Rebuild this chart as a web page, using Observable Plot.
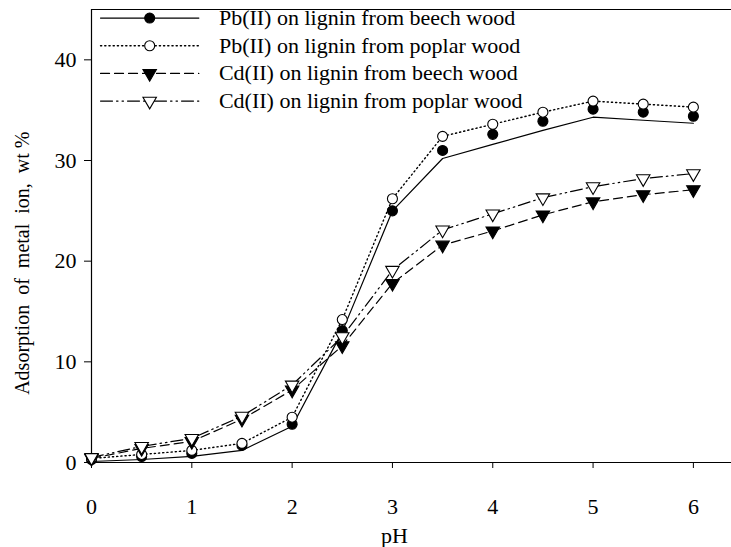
<!DOCTYPE html>
<html>
<head>
<meta charset="utf-8">
<script src="https://cdn.jsdelivr.net/npm/d3@7"></script>
<script src="https://cdn.jsdelivr.net/npm/@observablehq/plot@0.6"></script>
<style>
  html, body { margin: 0; padding: 0; background: white; }
  svg { display: block; }
</style>
</head>
<body>
<div id="chart"></div>
<script>
// ---- data ----
const pH = [0, 0.5, 1, 1.5, 2, 2.5, 3, 3.5, 4, 4.5, 5, 5.5, 6];
const pbBeechPts   = [0.3, 0.6, 0.9, 1.7, 3.8, 13.1, 25.0, 31.0, 32.6, 33.9, 35.1, 34.8, 34.4];
const pbBeechCurve = [0.1, 0.3, 0.6, 1.2, 3.6, 13.0, 25.0, 30.2, 31.6, 33.0, 34.3, 34.0, 33.7];
const pbPoplar     = [0.4, 0.8, 1.2, 1.9, 4.5, 14.2, 26.2, 32.4, 33.6, 34.8, 35.9, 35.6, 35.3];
const cdBeech      = [0.4, 1.4, 2.1, 4.3, 7.2, 11.6, 17.8, 21.6, 23.0, 24.6, 25.9, 26.6, 27.1];
const cdPoplar     = [0.5, 1.6, 2.4, 4.6, 7.7, 12.5, 19.1, 23.1, 24.7, 26.3, 27.4, 28.2, 28.7];
const seriesNames = [
  "Pb(II) on lignin from beech wood",
  "Pb(II) on lignin from poplar wood",
  "Cd(II) on lignin from beech wood",
  "Cd(II) on lignin from poplar wood"
];
const xTicks = [0, 1, 2, 3, 4, 5, 6];
const yTicks = [0, 10, 20, 30, 40];
const xLabel = "pH";
const yLabel = "Adsorption  of  metal  ion,  wt %";

// ---- styles ----
const styles = [
  {dash: null,               width: 1.2, symbol: "circle",   fill: "black", rotate: 0},
  {dash: "1.2,3",            width: 1.4, symbol: "circle",   fill: "white", rotate: 0},
  {dash: "9,5",              width: 1.2, symbol: "triangle", fill: "black", rotate: 180},
  {dash: "12,4,1.5,4,1.5,4", width: 1.2, symbol: "triangle", fill: "white", rotate: 180}
];

const toRows = (ys) => pH.map((x, i) => ({x, y: ys[i]}));
const curves = [toRows(pbBeechCurve), toRows(pbPoplar), toRows(cdBeech), toRows(cdPoplar)];
const points = [toRows(pbBeechPts), toRows(pbPoplar), toRows(cdBeech), toRows(cdPoplar)];

const yMax = 45;
const xMax = 6.38;

// legend rows (positions in data units)
const legendRowsY = [44.15, 41.4, 38.65, 35.9];
const legendLineX = [0.09, 1.07];
const legendMarkX = 0.58;
const legendTextX = 1.27;

const FS = 22;

const marks = [
  Plot.ruleY([0], {stroke: "black", strokeWidth: 1.2}),
  Plot.ruleY([yMax], {stroke: "black", strokeWidth: 1.2}),
  Plot.ruleX([0], {stroke: "black", strokeWidth: 1.2}),
  Plot.axisX({ticks: xTicks, tickSize: 6, tickPadding: 30, label: null, fontSize: FS, tickFormat: d => String(d)}),
  Plot.axisY({ticks: yTicks, tickSize: 7, tickPadding: 8, label: null, fontSize: FS, tickFormat: d => String(d)})
];

styles.forEach((s, k) => {
  marks.push(Plot.line(curves[k], {x: "x", y: "y", stroke: "black", strokeWidth: s.width, strokeDasharray: s.dash}));
});
styles.forEach((s, k) => {
  marks.push(Plot.dot(points[k], {x: "x", y: "y", symbol: s.symbol, r: 5, fill: s.fill, stroke: "black", strokeWidth: 1.1, rotate: s.rotate}));
});

// legend
styles.forEach((s, k) => {
  const yv = legendRowsY[k];
  marks.push(Plot.line(legendLineX.map(x => ({x, y: yv})), {x: "x", y: "y", stroke: "black", strokeWidth: s.width, strokeDasharray: s.dash}));
  marks.push(Plot.dot([{x: legendMarkX, y: yv}], {x: "x", y: "y", symbol: s.symbol, r: 5, fill: s.fill, stroke: "black", strokeWidth: 1.1, rotate: s.rotate}));
  marks.push(Plot.text([{x: legendTextX, y: yv, t: seriesNames[k]}], {x: "x", y: "y", text: "t", textAnchor: "start", fontSize: 22, fill: "black"}));
});

// axis titles
marks.push(Plot.text([{x: 3.02, t: xLabel}], {x: "x", text: "t", frameAnchor: "bottom", dy: 80, fontSize: FS, fill: "black"}));
marks.push(Plot.text([{y: 19.8, t: yLabel}], {y: "y", text: "t", frameAnchor: "left", textAnchor: "middle", dx: -69, rotate: -90, fontSize: 20, fill: "black"}));

const chart = Plot.plot({
  width: 731,
  height: 547,
  marginLeft: 91,
  marginRight: 0,
  marginTop: 9,
  marginBottom: 85,
  x: {domain: [0, xMax]},
  y: {domain: [0, yMax]},
  style: {fontFamily: "'Liberation Serif', 'Times New Roman', serif", fontSize: FS + "px", background: "white", color: "black", overflow: "visible"},
  marks
});
document.getElementById("chart").appendChild(chart);
</script>
</body>
</html>
